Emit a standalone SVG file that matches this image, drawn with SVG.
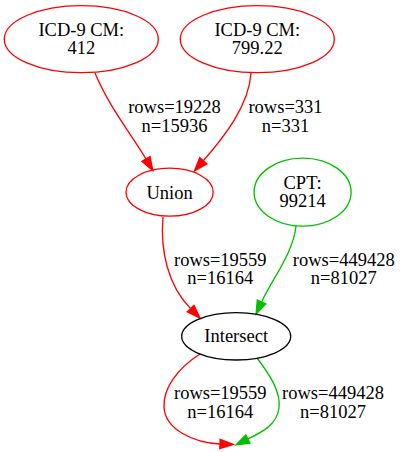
<svg xmlns="http://www.w3.org/2000/svg" width="406" height="452" viewBox="0 0 406 452">
<defs>
<style>
text{font-family:"Liberation Serif","Times New Roman",serif;font-size:18.5px;text-anchor:middle;fill:#000}
.n{fill:none;stroke-width:1.33}
.r{stroke:#ff0000}
.g{stroke:#00c000}
.k{stroke:#000000}
.e{fill:none;stroke-width:1.33}
</style>
<marker id="ar" markerUnits="userSpaceOnUse" markerWidth="16" markerHeight="12" refX="0" refY="4.7" orient="auto" overflow="visible">
<path d="M0,0 L13.3,4.7 L0,9.4 Z" fill="#ff0000" stroke="#ff0000" stroke-width="1.33"/>
</marker>
<marker id="ag" markerUnits="userSpaceOnUse" markerWidth="16" markerHeight="12" refX="0" refY="4.7" orient="auto" overflow="visible">
<path d="M0,0 L13.3,4.7 L0,9.4 Z" fill="#00c000" stroke="#00c000" stroke-width="1.33"/>
</marker>
</defs>
<rect width="406" height="452" fill="#ffffff"/>
<g id="edges">
<path class="e r" d="M95,73 C108,105 133,137 146,159" marker-end="url(#ar)"/>
<text x="174.5" y="113.3">rows=19228</text>
<text x="174.5" y="131.7">n=15936</text>
<path class="e r" d="M251,73 C249,105 225,136 203.3,160.7" marker-end="url(#ar)"/>
<text x="285.5" y="113.3">rows=331</text>
<text x="285.5" y="131.7">n=331</text>
<path class="e r" d="M163,217 C160,250 168,286 190.6,308.6" marker-end="url(#ar)"/>
<text x="220.3" y="265.8">rows=19559</text>
<text x="220.3" y="284.2">n=16164</text>
<path class="e g" d="M296,226 C293,254 272,279 261.6,301.9" marker-end="url(#ag)"/>
<text x="343.7" y="265.8">rows=449428</text>
<text x="343.7" y="284.2">n=81027</text>
<path class="e r" d="M200,354 C178,368 163,388 164,407 C165,430 195,443 220,444" marker-end="url(#ar)"/>
<text x="220.3" y="399.1">rows=19559</text>
<text x="220.3" y="417.5">n=16164</text>
<path class="e g" d="M257,358 C270,375 281,392 279,408 C277,425 262,432 247.9,439" marker-end="url(#ag)"/>
<text x="333" y="399.1">rows=449428</text>
<text x="333" y="417.5">n=81027</text>
</g>
<g id="icd412">
<ellipse class="n r" cx="81.3" cy="39.2" rx="77" ry="33.5"/>
<text x="81.3" y="36">ICD-9 CM:</text>
<text x="81.3" y="54.3">412</text>
</g>
<g id="icd79922">
<ellipse class="n r" cx="257.3" cy="39.2" rx="77" ry="33.5"/>
<text x="257.3" y="36">ICD-9 CM:</text>
<text x="257.3" y="54.3">799.22</text>
</g>
<g id="union">
<ellipse class="n r" cx="169.6" cy="192.2" rx="43.6" ry="24"/>
<text x="169.6" y="199">Union</text>
</g>
<g id="cpt">
<ellipse class="n g" cx="302.6" cy="192.2" rx="48.5" ry="34"/>
<text x="302.6" y="188.7">CPT:</text>
<text x="302.6" y="207">99214</text>
</g>
<g id="intersect">
<ellipse class="n k" cx="236.2" cy="336.3" rx="54.5" ry="23.7"/>
<text x="236.2" y="341.7">Intersect</text>
</g>
</svg>
